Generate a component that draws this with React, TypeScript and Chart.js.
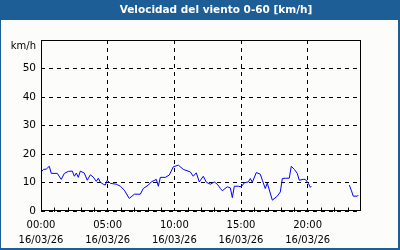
import { useEffect, useRef } from "react";
import { Chart, registerables } from "chart.js";

Chart.register(...registerables);

const TITLE = "Velocidad del viento 0-60 [km/h]";
const Y_UNIT = "km/h";
const X_TICK_HOURS = [0, 5, 10, 15, 20];
const X_TICK_TIMES = ["00:00", "05:00", "10:00", "15:00", "20:00"];
const X_TICK_DATE = "16/03/26";
const Y_TICKS = [0, 10, 20, 30, 40, 50, 60];
const MINOR_HOURS = [1, 2, 3, 4, 6, 7, 8, 9, 11, 12, 13, 14, 16, 17, 18, 19, 21, 22, 23];

const HOURS = [
  0, 0.2, 0.4, 0.62, 0.77, 1.22, 1.52, 1.75, 2.05, 2.35, 2.5, 2.65, 2.8, 2.95,
  3.25, 3.47, 3.7, 3.92, 4.15, 4.3, 4.45, 4.67, 4.82, 4.97, 5.2, 5.65, 5.95,
  6.25, 6.62, 7.0, 7.45, 7.67, 8.05, 8.27, 8.65, 8.8, 8.95, 9.32, 9.62, 9.92,
  10.3, 10.67, 11.2, 11.42, 11.65, 11.87, 12.17, 12.4, 12.7, 13.0, 13.22,
  13.37, 13.45, 13.6, 13.97, 14.2, 14.35, 14.5, 14.8, 15.02, 15.25, 15.55,
  15.7, 15.85, 16.15, 16.45, 16.6, 16.82, 16.97, 17.35, 17.72, 17.95, 18.1,
  18.32, 18.62, 18.77, 19.0, 19.22, 19.37, 19.67, 19.82, 20.05, 20.2, 20.27,
  21.7, 23.12, 23.27, 23.42, 23.72, 23.8,
];

const SPEED: (number | null)[] = [
  13.7, 14.6, 14.7, 15.7, 13.2, 13.2, 11.1, 13.2, 13.9, 14.0, 12.2, 13.3, 11.8,
  14.0, 13.3, 10.8, 12.7, 11.9, 10.4, 11.5, 10.1, 9.4, 9.1, 10.8, 9.7, 9.4,
  8.7, 7.3, 4.4, 5.9, 5.9, 7.9, 9.1, 10.2, 11.1, 8.7, 11.8, 11.8, 12.6, 15.5,
  16.1, 14.6, 13.7, 12.2, 13.4, 10.2, 12.2, 10.1, 9.4, 10.2, 9.4, 8.5, 7.9,
  7.1, 8.5, 8.1, 4.7, 8.7, 8.7, 8.5, 9.9, 10.2, 11.4, 10.1, 13.5, 12.9, 10.8,
  7.9, 9.8, 3.8, 5.2, 6.7, 11.4, 11.5, 11.5, 15.7, 14.6, 13.2, 10.8, 11.1,
  11.1, 9.7, 8.3, 8.7, null, 9.1, 7.3, 5.2, 5.2, 5.6,
];

const BLUE = "#1e5e96";
const FONT = "'DejaVu Sans', sans-serif";

const framePlugin = {
  id: "frame",
  beforeDraw(chart: any) {
    const ctx = chart.ctx as CanvasRenderingContext2D;
    const w = chart.width;
    const h = chart.height;
    ctx.save();
    ctx.fillStyle = "#fcfdfb";
    ctx.fillRect(0, 0, w, h);
    ctx.fillStyle = BLUE;
    ctx.fillRect(0, 0, w, 20);
    ctx.fillStyle = "#ffffff";
    ctx.font = `bold 10.5px ${FONT}`;
    ctx.textAlign = "center";
    ctx.textBaseline = "middle";
    ctx.fillText(TITLE, 216, 10.5);
    ctx.restore();
  },
  afterDraw(chart: any) {
    const ctx = chart.ctx as CanvasRenderingContext2D;
    const a = chart.chartArea;
    const xs = chart.scales.x;
    const w = chart.width;
    const h = chart.height;
    ctx.save();
    ctx.strokeStyle = "#000";
    ctx.lineWidth = 1;
    ctx.setLineDash([]);
    const l = Math.round(a.left) + 0.5;
    const t = Math.round(a.top) + 0.5;
    const r = Math.round(a.right) - 0.5;
    const b = Math.round(a.bottom) - 0.5;
    ctx.strokeRect(l, t, r - l, b - t);
    ctx.beginPath();
    for (const hr of MINOR_HOURS) {
      const px = Math.round(xs.getPixelForValue(hr)) + 0.5;
      ctx.moveTo(px, b - 3);
      ctx.lineTo(px, b + 1.5);
    }
    ctx.stroke();
    ctx.fillStyle = "#000";
    ctx.font = `10px ${FONT}`;
    ctx.textAlign = "right";
    ctx.textBaseline = "middle";
    ctx.fillText(Y_UNIT, a.left - 5, a.top + 6);
    ctx.fillStyle = BLUE;
    ctx.fillRect(0, 20, 1, h - 20);
    ctx.fillRect(w - 2, 20, 2, h - 20);
    ctx.fillRect(0, h - 2, w, 2);
    ctx.restore();
  },
};

export default function App() {
  const ref = useRef<HTMLCanvasElement | null>(null);

  useEffect(() => {
    document.body.style.margin = "0";
    const canvas = ref.current;
    if (!canvas) return;
    const points = HOURS.map((x, i) => ({ x, y: SPEED[i] }));
    const chart = new Chart(canvas, {
      type: "line",
      data: {
        datasets: [
          {
            data: points as any,
            borderColor: "#0000ff",
            borderWidth: 1,
            pointRadius: 0,
            tension: 0,
            spanGaps: false,
            fill: false,
          },
        ],
      },
      options: {
        animation: false,
        responsive: false,
        maintainAspectRatio: false,
        layout: { padding: { top: 40, right: 39, left: 0, bottom: 0 } },
        plugins: {
          legend: { display: false },
          tooltip: { enabled: false },
          title: { display: false },
        },
        scales: {
          x: {
            type: "linear",
            min: 0,
            max: 24,
            afterBuildTicks: (s: any) => {
              s.ticks = X_TICK_HOURS.map((v) => ({ value: v }));
            },
            afterFit: (s: any) => {
              s.height = 39;
            },
            ticks: {
              autoSkip: false,
              maxRotation: 0,
              padding: 7,
              color: "#000",
              font: { family: FONT, size: 10, lineHeight: 1.5 },
              callback: (v: any) => {
                const i = X_TICK_HOURS.indexOf(Number(v));
                return [X_TICK_TIMES[i], X_TICK_DATE];
              },
            },
            grid: { color: "#000", lineWidth: 1, drawTicks: false },
            border: { display: false, dash: [4, 4] },
          },
          y: {
            type: "linear",
            min: 0,
            max: 60,
            afterBuildTicks: (s: any) => {
              s.ticks = Y_TICKS.map((v) => ({ value: v }));
            },
            afterFit: (s: any) => {
              s.width = 41;
            },
            ticks: {
              padding: 5,
              color: "#000",
              font: { family: FONT, size: 10.5 },
              callback: (v: any) => (Number(v) === 60 ? "" : String(v)),
            },
            grid: { color: "#000", lineWidth: 1, drawTicks: false },
            border: { display: false, dash: [4, 4] },
          },
        },
      },
      plugins: [framePlugin],
    });
    return () => chart.destroy();
  }, []);

  return <canvas ref={ref} width={400} height={250} style={{ display: "block" }} />;
}
